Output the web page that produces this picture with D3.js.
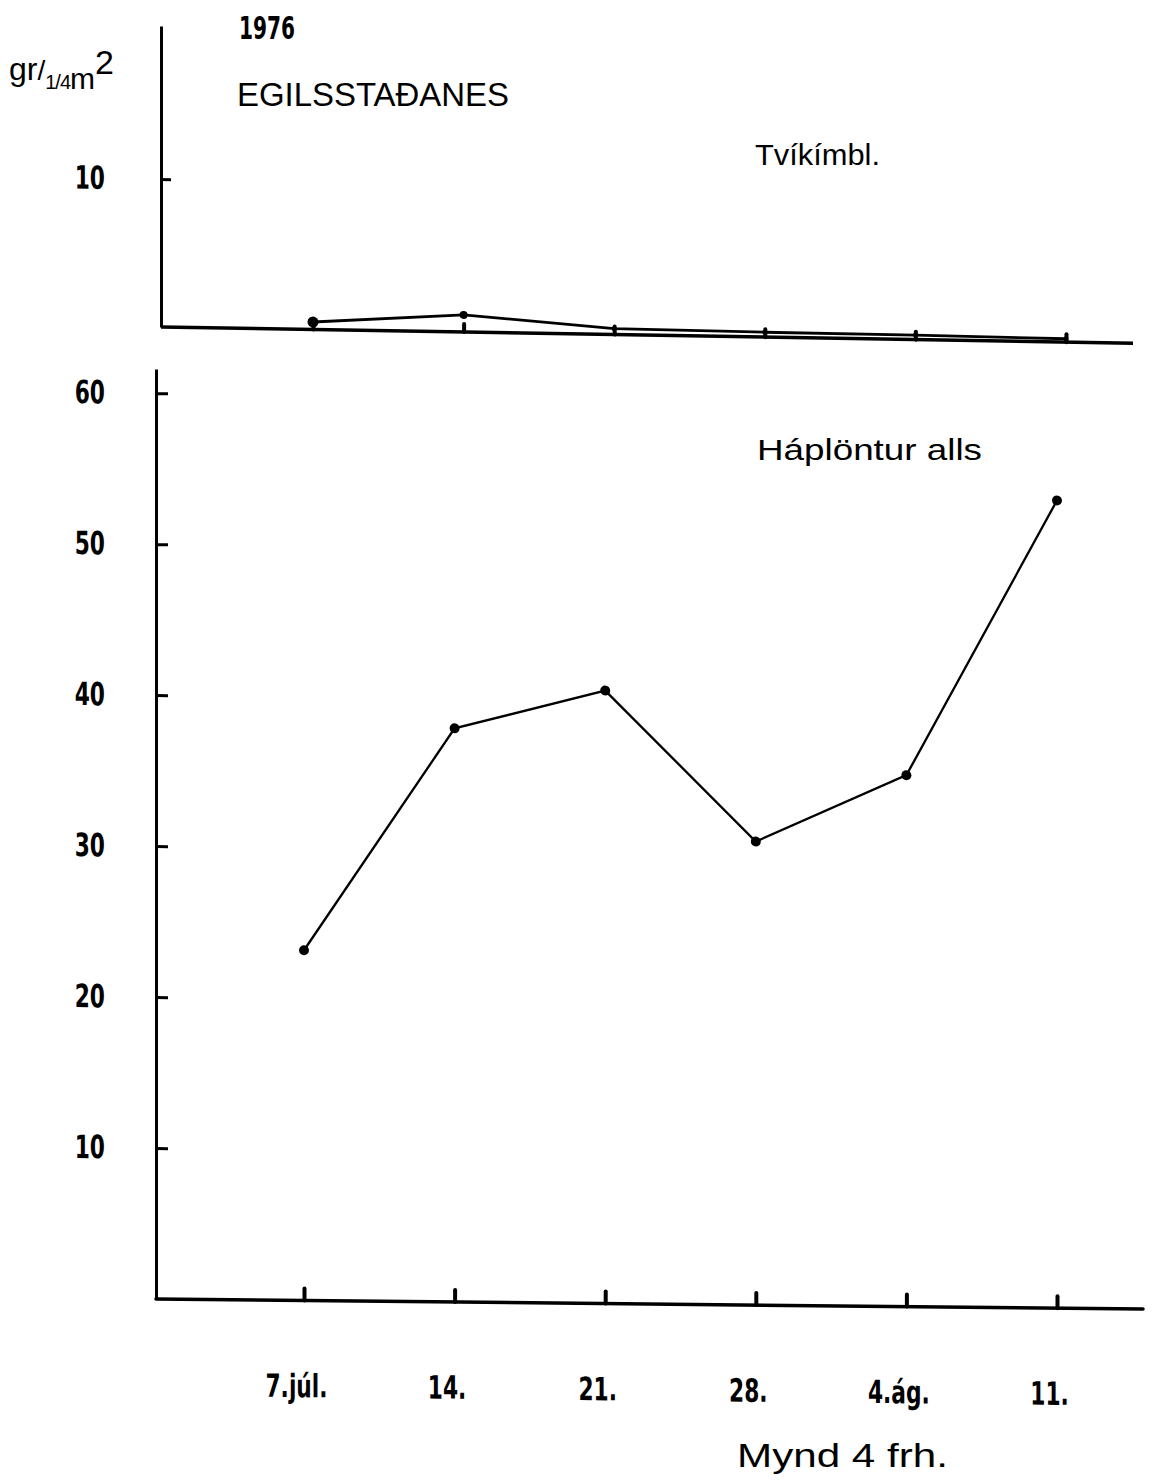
<!DOCTYPE html>
<html><head><meta charset="utf-8">
<script src="https://cdn.jsdelivr.net/npm/d3@7"></script>
<style>body{margin:0;background:#fff}</style>
</head><body>
<script>
// ---- data ----
const dates = ["7.júl.", "14.", "21.", "28.", "4.ág.", "11."];
const tvikimblValues = [0.51, 1.16, 0.40, 0.33, 0.31, 0.23];
const haplonturValues = [23.2, 38.0, 40.6, 30.7, 35.2, 53.5];
const topTickValues = [10];
const bottomTickValues = [10, 20, 30, 40, 50, 60];
const topMarkerRadius = [5.5, 4, 2.5, 2.5, 2.5, 2.5];

const W = 1155, H = 1483;
const numFont = "'DejaVu Sans',sans-serif";
const txtFont = "'Liberation Sans','DejaVu Sans',sans-serif";
const SX = 0.68; // horizontal condensing of numeric labels

const svg = d3.select("body").append("svg")
  .attr("width", W).attr("height", H).style("display", "block");

function condenseY(sel, pad) {
  sel.selectAll(".tick text")
    .attr("font-family", numFont).attr("font-weight", "bold").attr("font-size", 32).attr("fill", "#000")
    .attr("x", -pad / SX).attr("transform", `scale(${SX},1)`);
}

// ---------- TOP PANEL ----------
const topOrigin = [161, 327];
const xTop = d3.scalePoint().domain(dates).range([313, 1066]);
const yTop = d3.scaleLinear().domain([0, 20.35]).range([327, 26]);

const gTop = svg.append("g")
  .attr("transform", `translate(${topOrigin[0]},${topOrigin[1]}) skewY(0.96) translate(${-topOrigin[0]},${-topOrigin[1]})`);

const yAxisTop = d3.axisLeft(yTop).tickValues(topTickValues).tickSizeInner(-10).tickSizeOuter(0).tickPadding(56)
  .tickFormat(d3.format("d"));
const gyT = gTop.append("g").attr("transform", `translate(${topOrigin[0]},0)`).call(yAxisTop);
gyT.select(".domain").attr("stroke-width", 3);
gyT.selectAll(".tick line").attr("stroke-width", 3);
condenseY(gyT, 56);

const xAxisTop = d3.axisBottom(xTop).tickSizeInner(-8).tickSizeOuter(0).tickFormat("");
const gxT = gTop.append("g").attr("transform", `translate(0,${yTop(0)})`).call(xAxisTop);
gxT.select(".domain").remove();
gxT.selectAll(".tick line").attr("stroke-width", 4).attr("stroke-linecap", "round");
gTop.append("line").attr("x1", topOrigin[0]).attr("x2", 1133).attr("y1", yTop(0)).attr("y2", yTop(0))
  .attr("stroke", "#000").attr("stroke-width", 3.5);

gTop.append("path").datum(tvikimblValues)
  .attr("d", d3.line().x((d, i) => xTop(dates[i])).y(d => yTop(d)))
  .attr("fill", "none").attr("stroke", "#000").attr("stroke-width", 2.8);
gTop.selectAll("circle.t").data(tvikimblValues).join("circle").attr("class", "t")
  .attr("cx", (d, i) => xTop(dates[i])).attr("cy", d => yTop(d)).attr("r", (d, i) => topMarkerRadius[i]).attr("fill", "#000");

// ---------- BOTTOM PANEL ----------
const botOrigin = [156, 1299];
const xBot = d3.scalePoint().domain(dates).range([304, 1057]);
const yBot = d3.scaleLinear().domain([0, 61.6]).range([1299, 369]);

const gBot = svg.append("g")
  .attr("transform", `translate(${botOrigin[0]},${botOrigin[1]}) skewY(0.58) translate(${-botOrigin[0]},${-botOrigin[1]})`);

const yAxisBot = d3.axisLeft(yBot).tickValues(bottomTickValues).tickSizeInner(-12).tickSizeOuter(0).tickPadding(51)
  .tickFormat(d3.format("d"));
const gyB = gBot.append("g").attr("transform", `translate(${botOrigin[0]},0)`).call(yAxisBot);
gyB.select(".domain").attr("stroke-width", 3);
gyB.selectAll(".tick line").attr("stroke-width", 3);
condenseY(gyB, 51);

const xAxisBot = d3.axisBottom(xBot).tickSizeInner(-12).tickSizeOuter(0).tickPadding(74);
const gxB = gBot.append("g").attr("transform", `translate(0,${yBot(0)})`).call(xAxisBot);
gxB.select(".domain").remove();
gxB.selectAll(".tick line").attr("stroke-width", 4).attr("stroke-linecap", "round");
gxB.selectAll(".tick text").attr("font-family", numFont).attr("font-weight", "bold").attr("font-size", 32)
  .attr("fill", "#000").attr("x", -8 / SX).attr("transform", `scale(${SX},1)`);
gBot.append("line").attr("x1", botOrigin[0]).attr("x2", 1143).attr("y1", yBot(0)).attr("y2", yBot(0))
  .attr("stroke", "#000").attr("stroke-width", 3.5).attr("stroke-linecap", "round");

gBot.append("path").datum(haplonturValues)
  .attr("d", d3.line().x((d, i) => xBot(dates[i])).y(d => yBot(d)))
  .attr("fill", "none").attr("stroke", "#000").attr("stroke-width", 2.3);
gBot.selectAll("circle.b").data(haplonturValues).join("circle").attr("class", "b")
  .attr("cx", (d, i) => xBot(dates[i])).attr("cy", d => yBot(d)).attr("r", 5).attr("fill", "#000");

// ---------- TEXTS ----------
svg.append("text").attr("x", 239).attr("y", 39).attr("font-family", numFont).attr("font-weight", "bold")
  .attr("font-size", 32).attr("textLength", 56).attr("lengthAdjust", "spacingAndGlyphs").text("1976");

const unit = svg.append("text").attr("x", 9).attr("y", 80).attr("font-family", txtFont).attr("font-size", 32);
unit.append("tspan").text("gr");
unit.append("tspan").text("/").attr("font-size", 28);
unit.append("tspan").text("1/4").attr("font-size", 20).attr("dy", 9).attr("letter-spacing", -1);
unit.append("tspan").text("m").attr("font-size", 30);
unit.append("tspan").text("2").attr("font-size", 34).attr("dy", -15);

svg.append("text").attr("x", 237).attr("y", 106).attr("font-family", txtFont).attr("font-size", 33)
  .attr("textLength", 272).attr("lengthAdjust", "spacingAndGlyphs").text("EGILSSTAÐANES");

svg.append("text").attr("x", 755).attr("y", 165).attr("font-family", txtFont).attr("font-size", 30)
  .attr("textLength", 125).attr("lengthAdjust", "spacingAndGlyphs").text("Tvíkímbl.");

svg.append("text").attr("x", 757).attr("y", 460).attr("font-family", txtFont).attr("font-size", 30)
  .attr("textLength", 225).attr("lengthAdjust", "spacingAndGlyphs").text("Háplöntur alls");

svg.append("text").attr("x", 737).attr("y", 1467).attr("font-family", txtFont).attr("font-size", 34)
  .attr("textLength", 211).attr("lengthAdjust", "spacingAndGlyphs").text("Mynd 4 frh.");
</script>
</body></html>
